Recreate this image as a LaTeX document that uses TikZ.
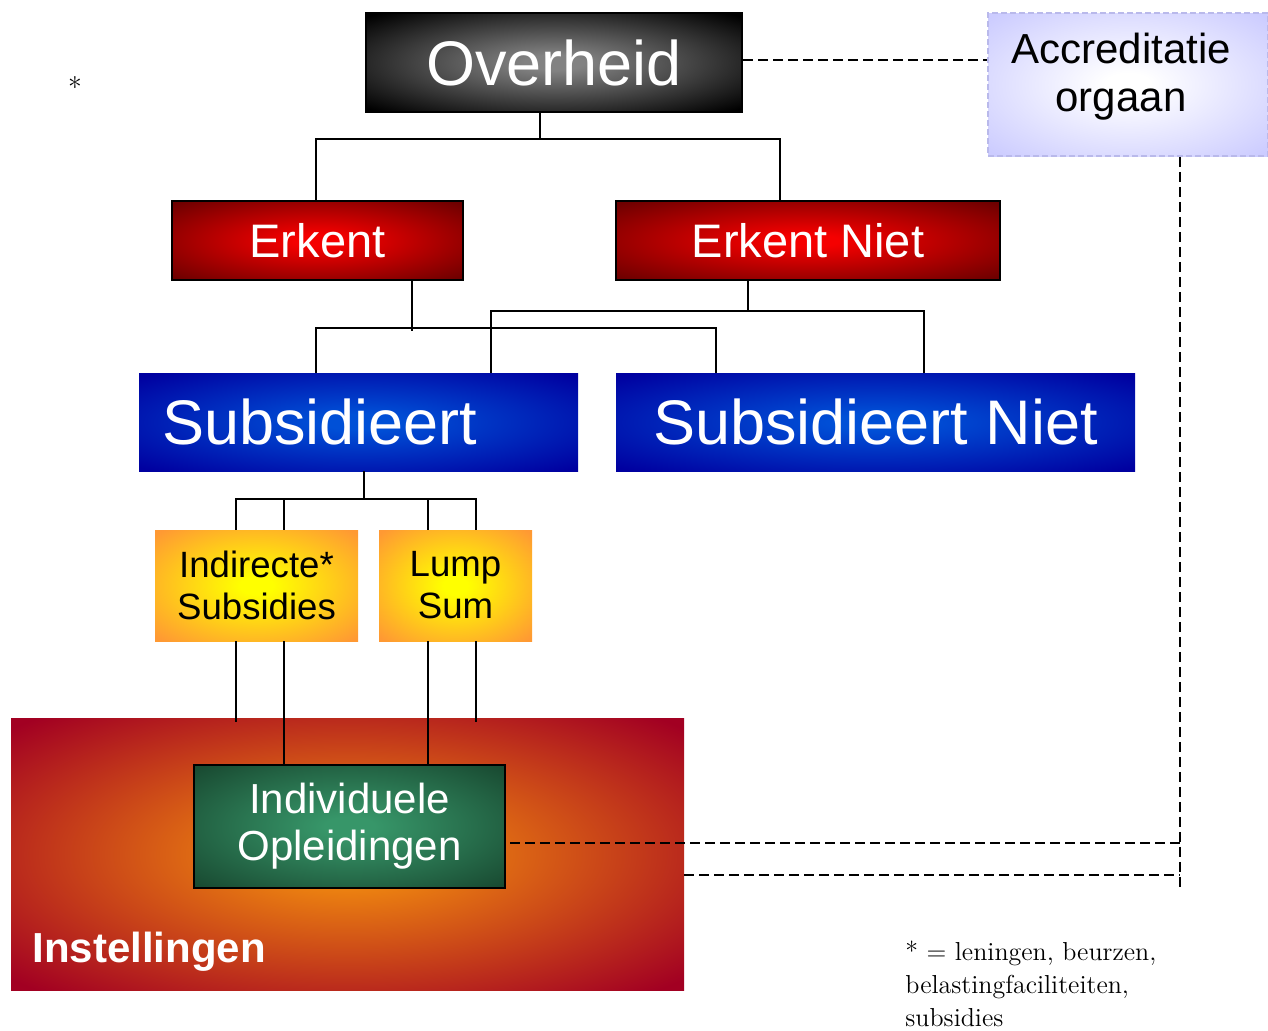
\documentclass[tikz,border=0pt]{standalone}
\usepackage{fontspec}
\setsansfont{Liberation Sans}

\definecolor{ovIn}{RGB}{130,130,130}
\definecolor{erkIn}{RGB}{245,0,0}
\definecolor{erkOut}{RGB}{110,0,0}
\definecolor{subIn}{RGB}{0,80,215}
\definecolor{subOut}{RGB}{0,0,160}
\definecolor{formIn}{RGB}{255,255,0}
\definecolor{formOut}{RGB}{255,153,51}
\definecolor{instIn}{RGB}{242,140,15}
\definecolor{instOut}{RGB}{162,0,34}
\definecolor{oplIn}{RGB}{55,150,105}
\definecolor{oplOut}{RGB}{25,75,50}
\definecolor{accrOut}{RGB}{204,204,255}
\definecolor{accrLine}{RGB}{185,185,235}
\colorlet{glowin}{white}
\colorlet{glowout}{black}

% centre glow, wider than the plain radial one
\pgfdeclareradialshading[glowin,glowout]{glow}{\pgfpoint{0bp}{0bp}}
  {color(0bp)=(glowin); color(4bp)=(glowin); color(34bp)=(glowout); color(50bp)=(glowout)}

\tikzset{
  glow/.style 2 args={shading=glow, /utils/exec={\colorlet{glowin}{#1}\colorlet{glowout}{#2}}},
  box/.style={rectangle, inner sep=0pt, align=center, font=\sffamily},
  topbox/.style={box, glow={ovIn}{black}, draw=black, line width=1pt, text=white,
    font=\sffamily\fontsize{31.5}{36}\selectfont},
  erkbox/.style={box, glow={erkIn}{erkOut}, draw=black, line width=1pt, text=white,
    minimum height=39.5pt, font=\sffamily\fontsize{23.5}{28}\selectfont},
  subbox/.style={box, glow={subIn}{subOut}, text=white,
    minimum height=49pt, font=\sffamily\fontsize{31.5}{36}\selectfont},
  formbox/.style={box, glow={formIn}{formOut}, text=black,
    minimum height=55.5pt, font=\sffamily\fontsize{18.3}{21}\selectfont},
  accrbox/.style={box, glow={white}{accrOut}, draw=accrLine, line width=0.75pt,
    dash pattern=on 3pt off 1.5pt},
  tree/.style={line width=1pt},
  link/.style={line width=1pt, dash pattern=on 5pt off 2.5pt}
}

\begin{document}
\begin{tikzpicture}[x=0.5pt, y=-0.5pt]

    \useasboundingbox (0,0) rectangle (1268,1030);

    % boxes
    \node[topbox, minimum width=188pt, minimum height=49.5pt] (over) at (554,62.5) {Overheid};
    \node[accrbox, minimum width=140pt, minimum height=71.5pt] (accr) at (1128,84.5) {};
    \node[box, font=\sffamily\fontsize{21}{24}\selectfont] (accrname) at (1121,77) {Accreditatie\\orgaan};

    \node[erkbox, minimum width=145.5pt] (erk) at (317.5,240.5) {Erkent};
    \node[erkbox, minimum width=192pt] (erkn) at (808,240.5) {Erkent Niet};

    \node[subbox, minimum width=219.5pt, text width=196.5pt, align=left] (sub) at (358.5,422) {Subsidieert};
    \node[subbox, minimum width=259.5pt] (subn) at (875.5,422) {Subsidieert Niet};

    \node[formbox, minimum width=101.5pt] (ind) at (256.5,585.5) {Indirecte*\\Subsidies};
    \node[formbox, minimum width=76.5pt] (lump) at (455.5,585.5) {Lump\\Sum};

    \node[box, glow={instIn}{instOut}, minimum width=336.5pt, minimum height=136pt] (inst) at (347.5,854) {};
    \node[box, anchor=base west, text=white, font=\sffamily\bfseries\fontsize{21}{24}\selectfont] (instname) at (32,962) {Instellingen};
    \node[box, glow={oplIn}{oplOut}, draw=black, line width=1.2pt, text=white,
          minimum width=155.5pt, minimum height=61.5pt, font=\sffamily\fontsize{21}{23.5}\selectfont] (opl) at (349.5,826.5) {Individuele\\Opleidingen};

    % notes
    \node[anchor=base, font=\rmfamily\fontsize{14}{16}\selectfont] (star) at (75,97) {*};
    \node[anchor=north west, inner sep=0pt, align=left, font=\rmfamily\fontsize{13}{16.5}\selectfont] (note) at (905,941)
        {* = leningen, beurzen,\\belastingfaciliteiten,\\subsidies};

    % tree
    \coordinate (j1) at (540,139);
    \draw[tree] (over.south -| j1) -- (j1);
    \draw[tree] (erk.north -| 316,0) |- (j1) -| (erkn.north -| 780,0);

    \coordinate (j2) at (412,328);
    \draw[tree] (erk.south -| j2) -- ([yshift=-1.5pt]j2);
    \draw[tree] (sub.north -| 316,0) |- (j2) -| (subn.north -| 716,0);

    \coordinate (j3) at (748,311);
    \draw[tree] (erkn.south -| j3) -- (j3);
    \draw[tree] (sub.north -| 491,0) |- (j3) -| (subn.north -| 924,0);

    \coordinate (j4) at (364,499);
    \draw[tree] (sub.south -| j4) -- (j4);
    \draw[tree] (ind.north -| 236,0) |- (j4) -| (lump.north -| 476,0);
    \draw[tree] (ind.north -| 284,0) -- (j4 -| 284,0);
    \draw[tree] (lump.north -| 428,0) -- (j4 -| 428,0);

    \draw[tree] (ind.south -| 236,0) -- ([yshift=-2pt]inst.north -| 236,0);
    \draw[tree] (ind.south -| 284,0) -- (opl.north -| 284,0);
    \draw[tree] (lump.south -| 428,0) -- (opl.north -| 428,0);
    \draw[tree] (lump.south -| 476,0) -- ([yshift=-2pt]inst.north -| 476,0);

    % accreditatie
    \coordinate (d1) at (1180,888);
    \draw[link] (over.east |- 0,60) -- (accr.west |- 0,60);
    \draw[link] (accr.south -| d1) -- (d1);
    \draw[link] ([xshift=2pt]opl.east |- 0,843) -- (d1 |- 0,843);
    \draw[link] (inst.east |- 0,875) -- (d1 |- 0,875);

\end{tikzpicture}
\end{document}
